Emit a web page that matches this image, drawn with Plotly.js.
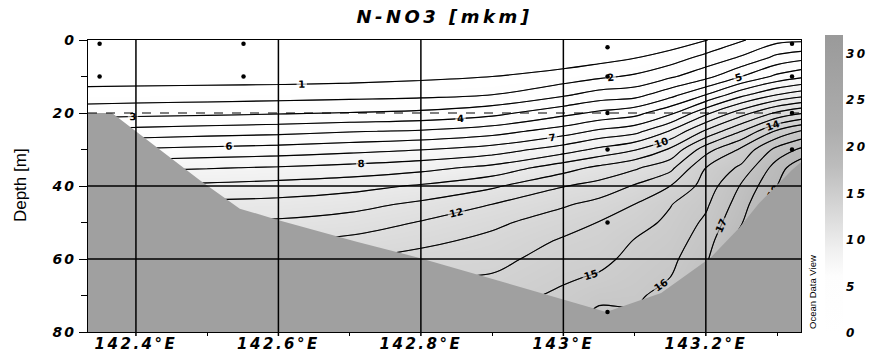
<!DOCTYPE html>
<html><head><meta charset="utf-8">
<script src="https://cdn.plot.ly/plotly-3.0.1.min.js"></script>
<style>
html,body{margin:0;padding:0;background:#fff;}
#chart{width:871px;height:352px;}
.gtitle{letter-spacing:3.5px;}
.xtick text{letter-spacing:2.5px;}
.ytick text{letter-spacing:2px;}
.colorbar text{letter-spacing:2.5px;}
</style></head><body><div id="chart"></div>
<script>
// Section grid: longitude columns, depth rows (m)
const lon = [142.33, 142.40, 142.50, 142.60, 142.70, 142.80, 142.90, 143.00, 143.05, 143.10, 143.15, 143.20, 143.25, 143.30, 143.34];
const depth = [0, 5, 10, 15, 20, 25, 30, 35, 40, 45, 50, 55, 60, 65, 70, 75, 80];
// N-NO3 values read from the section (rows = depth, cols = lon)
const no3 = [
 [0.2, 0.2, 0.2, 0.2, 0.2, 0.25, 0.3, 0.2, 0.2, 0.3, 0.36, 0.95, 1.9, 2.7, 2.8],
 [0.3, 0.3, 0.3, 0.3, 0.35, 0.45, 0.6, 0.4, 0.65, 1.0, 1.5, 2.38, 3.17, 4.33, 4.8],
 [0.5, 0.52, 0.54, 0.56, 0.63, 0.79, 1.0, 1.44, 1.81, 2.15, 2.85, 3.67, 5.0, 6.25, 6.87],
 [1.4, 1.44, 1.5, 1.56, 1.65, 1.75, 2.0, 2.84, 3.42, 3.63, 4.64, 6.0, 7.71, 9.0, 9.67],
 [2.57, 2.67, 2.77, 2.9, 3.04, 3.21, 3.68, 4.69, 5.2, 5.63, 6.77, 8.76, 10.56, 12.18, 13.0],
 [4.29, 4.36, 4.54, 4.68, 4.93, 5.11, 5.56, 6.5, 7.2, 7.65, 9.09, 11.17, 13.0, 15.19, 16.25],
 [6.0, 6.1, 6.26, 6.41, 6.67, 6.96, 7.44, 8.5, 9.22, 9.91, 11.14, 13.58, 15.2, 17.33, 18.33],
 [7.67, 7.77, 7.93, 8.09, 8.33, 8.67, 9.29, 10.58, 11.23, 11.84, 12.71, 15.0, 16.22, 18.5, 20.0],
 [9.11, 9.18, 9.22, 9.4, 9.64, 10.12, 10.83, 11.95, 12.36, 13.09, 14.0, 15.42, 17.12, 19.0, 20.71],
 [10.17, 10.22, 10.26, 10.33, 10.63, 11.21, 12.0, 12.87, 13.31, 14.0, 14.94, 15.83, 17.52, 19.7, 21.3],
 [11.0, 11.09, 11.14, 11.17, 11.46, 12.07, 12.77, 13.56, 14.03, 14.56, 15.24, 16.19, 17.92, 20.17, 21.8],
 [12.0, 12.0, 12.0, 12.03, 12.23, 12.73, 13.28, 14.12, 14.38, 15.05, 15.49, 16.5, 18.57, 20.58, 22.2],
 [13.0, 12.9, 12.7, 12.87, 13.0, 13.38, 13.68, 14.49, 14.7, 15.32, 15.75, 16.81, 19.2, 21.0, 22.6],
 [14.0, 13.8, 13.4, 13.6, 13.7, 14.0, 14.09, 14.85, 15.12, 15.58, 16.0, 17.17, 19.7, 21.4, 23.0],
 [15.0, 14.6, 14.1, 14.3, 14.4, 14.6, 14.55, 15.2, 15.75, 15.84, 16.33, 17.58, 20.2, 21.8, 23.4],
 [16.0, 15.4, 14.8, 15.0, 15.1, 15.2, 15.0, 15.5, 16.2, 16.1, 16.67, 18.0, 20.6, 22.2, 23.8],
 [17.0, 16.2, 15.5, 15.7, 15.8, 15.8, 15.4, 15.8, 16.6, 16.4, 17.0, 18.4, 21.0, 22.6, 24.2]
];
const levelStart = 1, levelEnd = 21, levelStep = 1;
const valueMin = 0, valueMax = 32;

// Bottom / no-data outline along the section
const bottomLon = [142.3327, 142.3664, 142.4897, 142.5458, 142.5990, 142.7098, 142.7981, 142.9060, 142.9985, 143.0602, 143.1373, 143.2074, 143.2467, 143.2747, 143.3209, 143.3336];
const bottomDepth = [20, 20, 38.4, 46.2, 49.3, 55.3, 59.7, 65.8, 71.2, 74.5, 69.3, 59.5, 51.5, 44.7, 35.6, 33.5];

// Stations and sample depths
const stationLon = [142.349, 142.551, 143.062, 143.321];
const stationDepths = [[1, 10], [1, 10], [2, 10, 20, 30, 50, 74.5], [1, 10, 20, 30]];

// Axis ticks
const xRange = [142.3327, 143.3336];
const yRange = [80, 0];
const xTickVals = [142.4, 142.6, 142.8, 143.0, 143.2];
const xTickText = ['142.4°E', '142.6°E', '142.8°E', '143°E', '143.2°E'];
const xMinorVals = [142.5, 142.7, 142.9, 143.1, 143.3];
const yTickVals = [0, 20, 40, 60, 80];
const yMinorVals = [10, 30, 50, 70];
const yGridVals = [20, 40, 60];
const cbTickVals = [0, 5, 10, 15, 20, 25, 30];

const grayScale = [
  [0, '#ffffff'], [0.19, '#fdfdfd'], [0.28, '#f0f0f0'], [0.375, '#dedede'],
  [0.47, '#cdcdcd'], [0.5625, '#bcbcbc'], [0.6875, '#adadad'], [1, '#9a9a9a']
];

const bold = {family: 'DejaVu Sans', weight: 'bold', style: 'italic', color: '#000'};

const polyLon = bottomLon.concat([xRange[1], xRange[0]]);
const polyDepth = bottomDepth.concat([yRange[0], yRange[0]]);

const stX = [], stY = [];
stationLon.forEach((l, i) => stationDepths[i].forEach(d => { stX.push(l); stY.push(d); }));

const traces = [
  {
    type: 'contour', x: lon, y: depth, z: no3,
    zauto: false, zmin: valueMin, zmax: valueMax, colorscale: grayScale,
    contours: {start: levelStart, end: levelEnd, size: levelStep, coloring: 'heatmap', showlines: false},
    showscale: false, hoverinfo: 'skip'
  },
  {
    type: 'contour', x: lon, y: depth, z: no3,
    zauto: false, zmin: valueMin, zmax: valueMax,
    contours: {start: levelStart, end: levelEnd, size: levelStep, coloring: 'none', showlines: true,
      showlabels: true, labelfont: {family: 'DejaVu Sans', size: 10, weight: 'bold', color: '#000'}},
    line: {color: '#000', width: 1.1, smoothing: 1},
    showscale: false, hoverinfo: 'skip'
  },
  {
    type: 'scatter', mode: 'lines', x: polyLon, y: polyDepth, fill: 'toself',
    fillcolor: '#a0a0a0', line: {width: 0, color: '#a0a0a0'}, hoverinfo: 'skip', showlegend: false
  },
  {
    type: 'scatter', mode: 'markers', x: stX, y: stY,
    marker: {color: '#000', size: 4.5}, hoverinfo: 'skip', showlegend: false
  },
  {
    // colour key only (no visible marks)
    type: 'scatter', mode: 'markers', x: [null], y: [null], hoverinfo: 'skip', showlegend: false,
    marker: {color: [valueMin], cmin: valueMin, cmax: valueMax, colorscale: grayScale, showscale: true,
      colorbar: {
        x: (825 - 88) / 714, xanchor: 'left', xpad: 0, thickness: 18,
        y: -1 / 292, yanchor: 'bottom', ypad: 0, len: 298, lenmode: 'pixels',
        outlinewidth: 0, tickmode: 'array', tickvals: cbTickVals, ticks: '',
        tickfont: Object.assign({size: 12}, bold)
      }}
  }
];

const shapes = [];
xTickVals.forEach(v => shapes.push({type: 'line', xref: 'x', yref: 'paper', x0: v, x1: v, y0: -4 / 292, y1: 1,
  line: {color: '#000', width: 1.5}, layer: 'above'}));
yGridVals.forEach(v => shapes.push({type: 'line', xref: 'paper', yref: 'y', x0: 0, x1: 1, y0: v, y1: v,
  line: {color: '#000', width: v === 20 ? 1.1 : 1.5, dash: v === 20 ? 'dash' : 'solid'}, layer: 'above'}));

const layout = {
  width: 871, height: 352,
  margin: {l: 88, r: 69, t: 40, b: 20, pad: 0},
  paper_bgcolor: '#fff', plot_bgcolor: '#fff',
  showlegend: false,
  title: {text: 'N-NO3 [mkm]', xref: 'paper', x: 0.5, xanchor: 'center', yref: 'container', y: 1 - 17 / 352, yanchor: 'middle',
    font: Object.assign({size: 18}, bold)},
  xaxis: {range: xRange, tickmode: 'array', tickvals: xTickVals, ticktext: xTickText,
    ticks: '', ticklabelstandoff: -2,
    showline: true, mirror: true, linecolor: '#000', linewidth: 1.3,
    showgrid: false, zeroline: false, tickfont: Object.assign({size: 15}, bold),
    minor: {tickmode: 'array', tickvals: xMinorVals, ticks: 'outside', ticklen: 3, tickcolor: '#000', showgrid: false}},
  yaxis: {range: yRange, tickmode: 'array', tickvals: yTickVals,
    ticks: 'outside', ticklen: 8, tickwidth: 1, tickcolor: '#000',
    showline: true, mirror: true, linecolor: '#000', linewidth: 1.3,
    showgrid: false, zeroline: false, tickfont: Object.assign({size: 14}, bold),
    minor: {tickmode: 'array', tickvals: yMinorVals, ticks: 'outside', ticklen: 6, tickcolor: '#000', showgrid: false}},
  shapes: shapes,
  annotations: [
    {text: 'Depth [m]', xref: 'paper', yref: 'paper', x: (20 - 88) / 714, y: (332 - 185) / 292,
      xanchor: 'center', yanchor: 'middle', textangle: -90, showarrow: false,
      font: {family: 'Liberation Sans Narrow, Liberation Sans, sans-serif', size: 17, color: '#000'}},
    {text: 'Ocean Data View', xref: 'paper', yref: 'paper', x: (813 - 88) / 714, y: (332 - 292) / 292,
      xanchor: 'center', yanchor: 'middle', textangle: -90, showarrow: false,
      font: {family: 'Liberation Sans Narrow, Liberation Sans, sans-serif', size: 9.5, color: '#000'}}
  ]
};

Plotly.newPlot('chart', traces, layout, {staticPlot: true, displayModeBar: false});
</script></body></html>
